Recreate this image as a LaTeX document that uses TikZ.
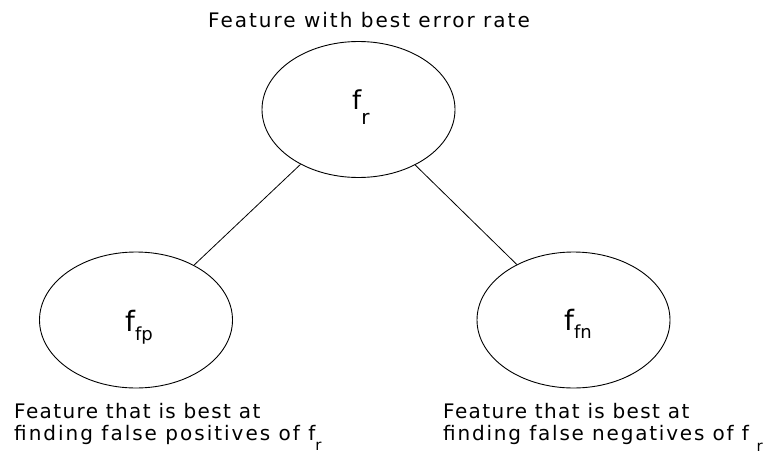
\documentclass[tikz,border=0pt]{standalone}
\usepackage{fontspec}
\setmainfont{DejaVu Sans}
\usetikzlibrary{shapes.geometric}

% f with a lowered index: #1 index, #2 index size, #3 drop
\newcommand{\fidx}[3]{f\raisebox{-#3}{\fontsize{#2}{#2}\selectfont #1}}

\begin{document}
\begin{tikzpicture}[x=1pt,y=-1pt,
		feat/.style={ellipse, draw, line width=0.9pt, minimum width=193pt, minimum height=136pt, inner sep=0pt},
		fname/.style={anchor=base west, inner sep=0pt, font=\fontsize{28}{28}\selectfont},
		note/.style={align=left, inner sep=0pt, font=\fontsize{20}{22}\selectfont\addfontfeature{LetterSpace=7}}]
	\useasboundingbox (0,0) rectangle (767,455);

	\node[feat] (root) at (358.5,109.5) {};
	\node[feat] (fp) at (136,320) {};
	\node[feat] (fn) at (573.5,320) {};

	\node[fname, font=\fontsize{26}{26}\selectfont] (root-name) at (352,109) {\fidx{r}{20}{15pt}};
	\node[fname] (fp-name) at (125,331) {\fidx{fp}{18}{9pt}};
	\node[fname] (fn-name) at (564,330) {\fidx{fn}{18}{8pt}};

	\draw[line width=0.8pt] (root) -- (fp);
	\draw[line width=0.8pt] (root) -- (fn);

	\node[note, anchor=base, font=\fontsize{20}{22}\selectfont\addfontfeature{LetterSpace=10}] (top) at (369,27) {Feature with best error rate};
	% base anchor sits on the last line
	\node[note, anchor=base west] (fpnote) at (14,440) {Feature that is best at\\{\addfontfeature{LetterSpace=10}finding false positives of f}\raisebox{-10pt}{\fontsize{15}{15}\selectfont r}};
	\node[note, anchor=base west] (fnnote) at (443,440) {Feature that is best at\\{\addfontfeature{LetterSpace=9}finding false negatives of f} \raisebox{-11pt}{\fontsize{15}{15}\selectfont r}};
\end{tikzpicture}
\end{document}
